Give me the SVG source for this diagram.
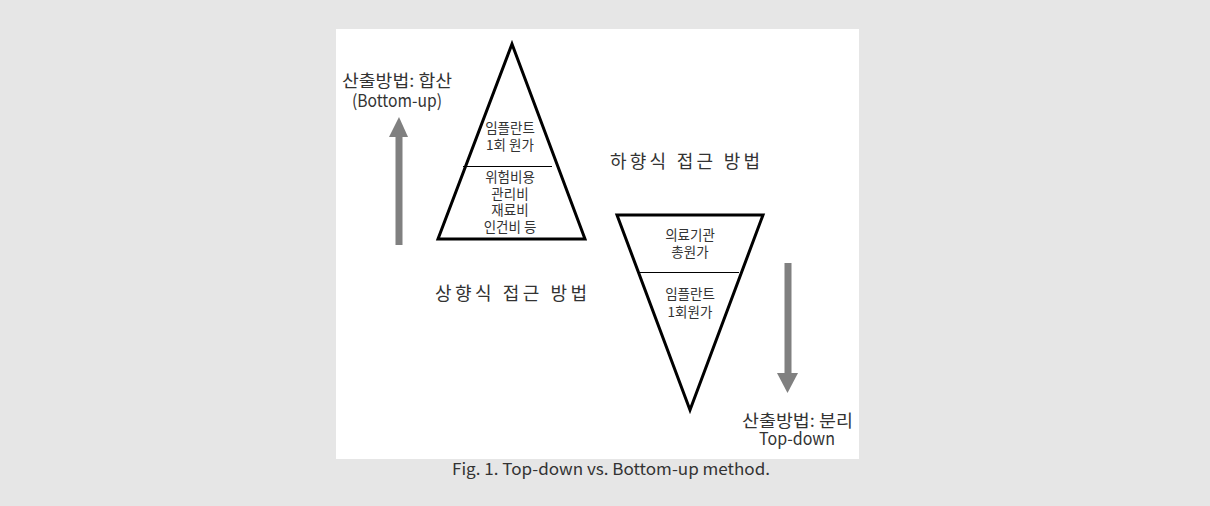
<svg xmlns="http://www.w3.org/2000/svg" width="1210" height="506" viewBox="0 0 1210 506">
<defs>
<style>
.t{font-family:"Noto Sans CJK KR","Liberation Sans",sans-serif;fill:#333;text-anchor:middle}
.s{font-size:13.5px}
.m{font-size:17px}
.l{font-size:18px}
.tri{fill:none;stroke:#000;stroke-width:3;stroke-linejoin:miter}
.div{stroke:#000;stroke-width:1}
.arr{fill:#808080}
</style>
</defs>
<rect x="0" y="0" width="1210" height="506" fill="#e6e6e6"/>
<rect x="336" y="29" width="523" height="430" fill="#ffffff"/>
<g id="bottom-up-triangle">
<polygon class="tri" points="512,44 585,239 438,239"/>
<line class="div" x1="463" y1="166.5" x2="552" y2="166.5"/>
<text class="t s" x="510" y="133">임플란트</text>
<text class="t s" x="510" y="150">1회 원가</text>
<text class="t s" x="510" y="182">위험비용</text>
<text class="t s" x="510" y="198.5">관리비</text>
<text class="t s" x="510" y="215">재료비</text>
<text class="t s" x="510" y="232">인건비 등</text>
</g>
<g id="top-down-triangle">
<polygon class="tri" points="617,215 763,215 690,410"/>
<line class="div" x1="640" y1="272.5" x2="739" y2="272.5"/>
<text class="t s" x="690" y="240">의료기관</text>
<text class="t s" x="690" y="257">총원가</text>
<text class="t s" x="690" y="299">임플란트</text>
<text class="t s" x="690" y="317">1회원가</text>
</g>
<g id="connectors">
<rect class="arr" x="395.5" y="135" width="7" height="110"/>
<polygon class="arr" points="399,117 408,137 389,137"/>
<rect class="arr" x="784.5" y="263" width="7" height="112"/>
<polygon class="arr" points="777,373 798,373 787.5,393"/>
</g>
<g id="labels">
<text class="t m" x="397" y="87" textLength="110" lengthAdjust="spacingAndGlyphs">산출방법: 합산</text>
<text class="t m" x="397" y="107" textLength="90" lengthAdjust="spacingAndGlyphs">(Bottom-up)</text>
<text class="t l" x="511" y="300" textLength="152" lengthAdjust="spacing">상향식 접근 방법</text>
<text class="t l" x="685" y="168" textLength="150" lengthAdjust="spacing">하향식 접근 방법</text>
<text class="t m" x="797.5" y="427" textLength="111" lengthAdjust="spacingAndGlyphs">산출방법: 분리</text>
<text class="t m" x="797" y="445" textLength="76" lengthAdjust="spacingAndGlyphs">Top-down</text>
</g>
<text class="t" x="611" y="475" font-size="16" textLength="318" lengthAdjust="spacingAndGlyphs">Fig. 1. Top-down vs. Bottom-up method.</text>
</svg>
